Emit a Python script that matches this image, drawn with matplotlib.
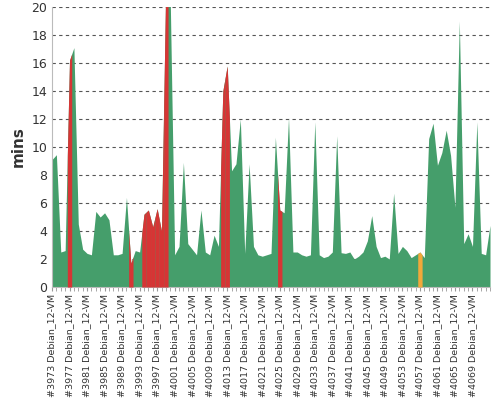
import numpy as np
import matplotlib
matplotlib.use("Agg")
import matplotlib.pyplot as plt

first_build = 3973
durations = [9.1, 9.45, 2.5, 2.6, 16.2, 17.1, 4.5, 2.7, 2.4, 2.3,
             5.4, 5.0, 5.3, 4.8, 2.3, 2.3, 2.4, 6.4, 1.7, 2.6,
             2.5, 5.2, 5.5, 4.3, 5.6, 4.0, 22.0, 20.5, 2.3, 2.9,
             8.9, 3.1, 2.7, 2.3, 5.5, 2.5, 2.3, 3.7, 2.9, 14.0,
             15.8, 8.3, 8.8, 12.0, 2.4, 8.8, 2.9, 2.3, 2.2, 2.3,
             2.4, 10.7, 5.5, 5.3, 12.1, 2.5, 2.5, 2.3, 2.2, 2.3,
             11.8, 2.3, 2.1, 2.2, 2.5, 10.8, 2.45, 2.4, 2.5, 2.0,
             2.2, 2.5, 3.3, 5.1, 2.9, 2.1, 2.2, 2.0, 6.7, 2.4,
             2.9, 2.6, 2.1, 2.3, 2.5, 2.1, 10.6, 11.7, 8.7, 9.6,
             11.2, 9.4, 5.7, 19.0, 3.1, 3.8, 2.9, 11.8, 2.4, 2.3, 4.4]
failed = [4, 18, 21, 22, 23, 24, 25, 26, 39, 40, 52]
unstable = [84]
job = "Debian_12-VM"

GREEN, RED, ORANGE = "#459e6b", "#d63535", "#f2a83a"
n = len(durations)
x = np.arange(n)
y = np.array(durations)

fig = plt.figure(figsize=(5, 4), dpi=100)
ax = fig.add_axes([0.104, 0.2825, 0.876, 0.7])
ax.fill_between(x, 0, y, color=GREEN, lw=0, zorder=2)

def band(idxs, color):
    for i in idxs:
        xs = np.linspace(max(i - 0.5, 0), min(i + 0.5, n - 1), 30)
        ax.fill_between(xs, 0, np.interp(xs, x, y), color=color, lw=0, zorder=3)

band(failed, RED)
band(unstable, ORANGE)

ax.set_xlim(0, n - 1)
ax.set_ylim(0, 20)
ax.set_yticks(range(0, 21, 2))
ax.yaxis.grid(True, linestyle=(0, (3, 3)), color="#555555", lw=0.8, zorder=1)
ax.set_axisbelow(True)
ticks = list(range(0, n - 1, 4))
ax.set_xticks(ticks)
ax.set_xticklabels([f"#{first_build + t} {job}" for t in ticks], rotation=90, fontsize=6.8, color="#333333")
ax.set_xticks(x, minor=True)
ax.tick_params(axis="x", which="both", length=3, color="#999999", pad=2)
ax.tick_params(axis="y", length=0, labelsize=9, colors="#333333")
ax.set_ylabel("mins", fontsize=11, fontweight="bold", color="#333333")
for s in ["top", "right"]:
    ax.spines[s].set_visible(False)
ax.spines["left"].set_color("#bbbbbb")
ax.spines["bottom"].set_color("#bbbbbb")
fig.savefig("out.png", dpi=100)
